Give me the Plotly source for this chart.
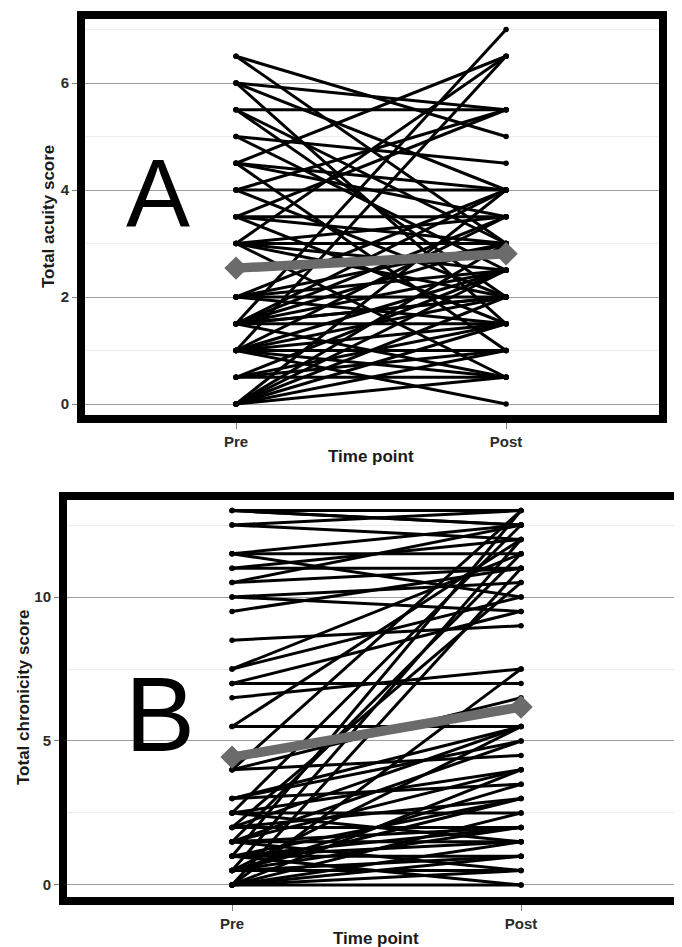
import plotly.graph_objects as go

# ---------------- data ----------------
time_points = ["Pre", "Post"]

# Panel A: total acuity score, paired (pre, post) per patient
acuity_pre = [6.5, 6.5, 6, 6, 6, 5.5, 5.5, 5.5, 5, 5,
              4.5, 4.5, 4.5, 4.5, 4, 4, 4, 3.5, 3.5, 3.5, 3.5,
              3, 3, 3, 3, 3, 3, 2, 2, 2, 2, 2,
              1.5, 1.5, 1.5, 1.5, 1.5, 1.5, 1.5, 1.5, 1.5,
              1, 1, 1, 1, 1, 1, 1, 1,
              0.5, 0.5, 0.5, 0.5,
              0, 0, 0, 0, 0, 0, 0]
acuity_post = [5.0, 3.0, 5.5, 4.0, 1.5, 5.5, 3.0, 2.0, 4.5, 2.5,
               6.5, 4.0, 3.5, 1.0, 5.5, 4.0, 2.0, 5.5, 3.5, 3.0, 1.5,
               6.5, 3.5, 3.0, 2.5, 0.5, 2.0, 2.0, 2.5, 1.5, 3.0, 4.0,
               7.0, 4.0, 3.0, 2.5, 2.0, 1.5, 0.5, 3.5, 2.0,
               6.5, 3.5, 2.0, 1.5, 1.0, 0.0, 0.5, 2.5,
               2.5, 1.5, 0.5, 1.0,
               2.5, 4.0, 3.0, 2.0, 1.5, 1.0, 0.5]
acuity_mean = [2.54, 2.81]

# Panel B: total chronicity score, paired (pre, post) per patient
chron_pre = [13, 13, 13, 12.5, 12.5, 11.5, 11.5, 11.5, 11, 11, 10.5, 10.5,
             10, 10, 9.5, 8.5, 7.5, 7,
             4, 7.5, 0.5, 1, 2.5, 1.5, 2, 0, 5.5,
             0.5, 1, 3,
             7, 6.5, 5.5, 4, 4, 3, 3, 2.5, 2.5, 2.5, 2, 2, 2,
             1.5, 1.5, 1.5, 1.5, 1.5, 1, 1, 1, 1,
             0.5, 0.5, 0.5, 0.5, 0.5, 0, 0, 0, 0, 0, 0, 0]
chron_post = [13, 12.5, 12.5, 13, 12, 12.5, 11.5, 10, 12, 11, 11, 12.5,
              10.5, 9.5, 11, 9, 10, 7,
              13, 11.5, 12, 13, 12.5, 11.5, 10.5, 11, 12,
              2, 1.5, 5,
              9.5, 7.5, 5.5, 6.5, 4.5, 5.5, 3.5, 4, 2.5, 1.5, 5.5, 3, 2,
              4, 5, 2, 0.5, 1.5, 2, 1, 3, 0,
              5.5, 3.5, 0.5, 1, 3, 7.5, 1, 4, 1.5, 0, 0.5, 2.5]
chron_mean = [4.44, 6.18]

# The page body has an 8px margin, so the figure is offset inside the window.
OX, OY = 8, 8
W, H = 682 - OX, 947 - OY


def px(x):
    return (x - OX) / W


def py(y):
    return 1 - (y - OY) / H


def segments(pre, post):
    xs, ys = [], []
    for a, b in zip(pre, post):
        xs += [time_points[0], time_points[1], None]
        ys += [a, b, None]
    return xs, ys


fig = go.Figure()

for pre, post, mean, xa, ya in [
    (acuity_pre, acuity_post, acuity_mean, "x", "y"),
    (chron_pre, chron_post, chron_mean, "x2", "y2"),
]:
    xs, ys = segments(pre, post)
    fig.add_trace(go.Scatter(
        x=xs, y=ys, mode="lines+markers", xaxis=xa, yaxis=ya,
        line=dict(color="black", width=3),
        marker=dict(color="black", size=5.5),
        hoverinfo="skip", showlegend=False))
    fig.add_trace(go.Scatter(
        x=time_points, y=mean, mode="lines+markers", xaxis=xa, yaxis=ya,
        line=dict(color="#6b6b6b", width=9.5),
        marker=dict(color="#6b6b6b", size=18, symbol="diamond"),
        hoverinfo="skip", showlegend=False))

tickfont = dict(family="Liberation Sans, Arial", size=15, color="#2b2b2b", weight="bold")
titlefont = dict(family="Liberation Sans, Arial", size=17, color="#1a1a1a", weight="bold")

xcommon = dict(type="category", categoryorder="array", categoryarray=time_points,
               showgrid=False, zeroline=False, showline=False,
               ticks="outside", ticklen=9, tickcolor="#808080", tickwidth=1,
               tickfont=tickfont)
ycommon = dict(zeroline=False, showline=False, gridcolor="#9e9e9e", gridwidth=1.4,
               ticks="outside", ticklen=8, tickcolor="#808080", tickwidth=1,
               tickfont=tickfont, tick0=0)

fig.update_layout(
    width=W, height=H,
    margin=dict(l=0, r=0, t=0, b=0),
    paper_bgcolor="white", plot_bgcolor="white",
    showlegend=False,
    xaxis=dict(domain=[px(81), px(663)], range=[-0.574, 1.581], anchor="y", **xcommon),
    yaxis=dict(domain=[py(419), py(15)], range=[-0.28, 7.271], dtick=2, anchor="x",
               minor=dict(dtick=1, showgrid=True, gridcolor="#ececec", gridwidth=1),
               **ycommon),
    xaxis2=dict(domain=[px(63), 1.0], range=[-0.585, 1.557], anchor="y2", **xcommon),
    yaxis2=dict(domain=[py(901), py(496)], range=[-0.556, 13.507], dtick=5, anchor="x2",
                minor=dict(dtick=2.5, showgrid=True, gridcolor="#ececec", gridwidth=1),
                **ycommon),
)

# thick panel borders
fig.add_shape(type="rect", xref="x domain", yref="y domain", x0=0, x1=1, y0=0, y1=1,
              line=dict(color="black", width=8), layer="above")
fig.add_shape(type="rect", xref="x2 domain", yref="y2 domain", x0=0, x1=(690 - 63) / (682 - 63),
              y0=0, y1=1, line=dict(color="black", width=8), layer="above")

annots = [
    dict(text="A", x=px(158), y=py(192.5), font=dict(family="Liberation Sans, Arial", size=96, color="black")),
    dict(text="B", x=px(159.5), y=py(714.5), font=dict(family="Liberation Sans, Arial", size=105, color="black")),
    dict(text="Time point", x=px(371), y=py(457), font=titlefont),
    dict(text="Time point", x=px(376), y=py(938), font=titlefont),
    dict(text="Total acuity score", x=px(49), y=py(217), textangle=-90, font=titlefont),
    dict(text="Total chronicity score", x=px(23), y=py(698), textangle=-90, font=titlefont),
]
for a in annots:
    fig.add_annotation(xref="paper", yref="paper", showarrow=False,
                       xanchor="center", yanchor="middle", **a)

fig.write_html("out.html")
